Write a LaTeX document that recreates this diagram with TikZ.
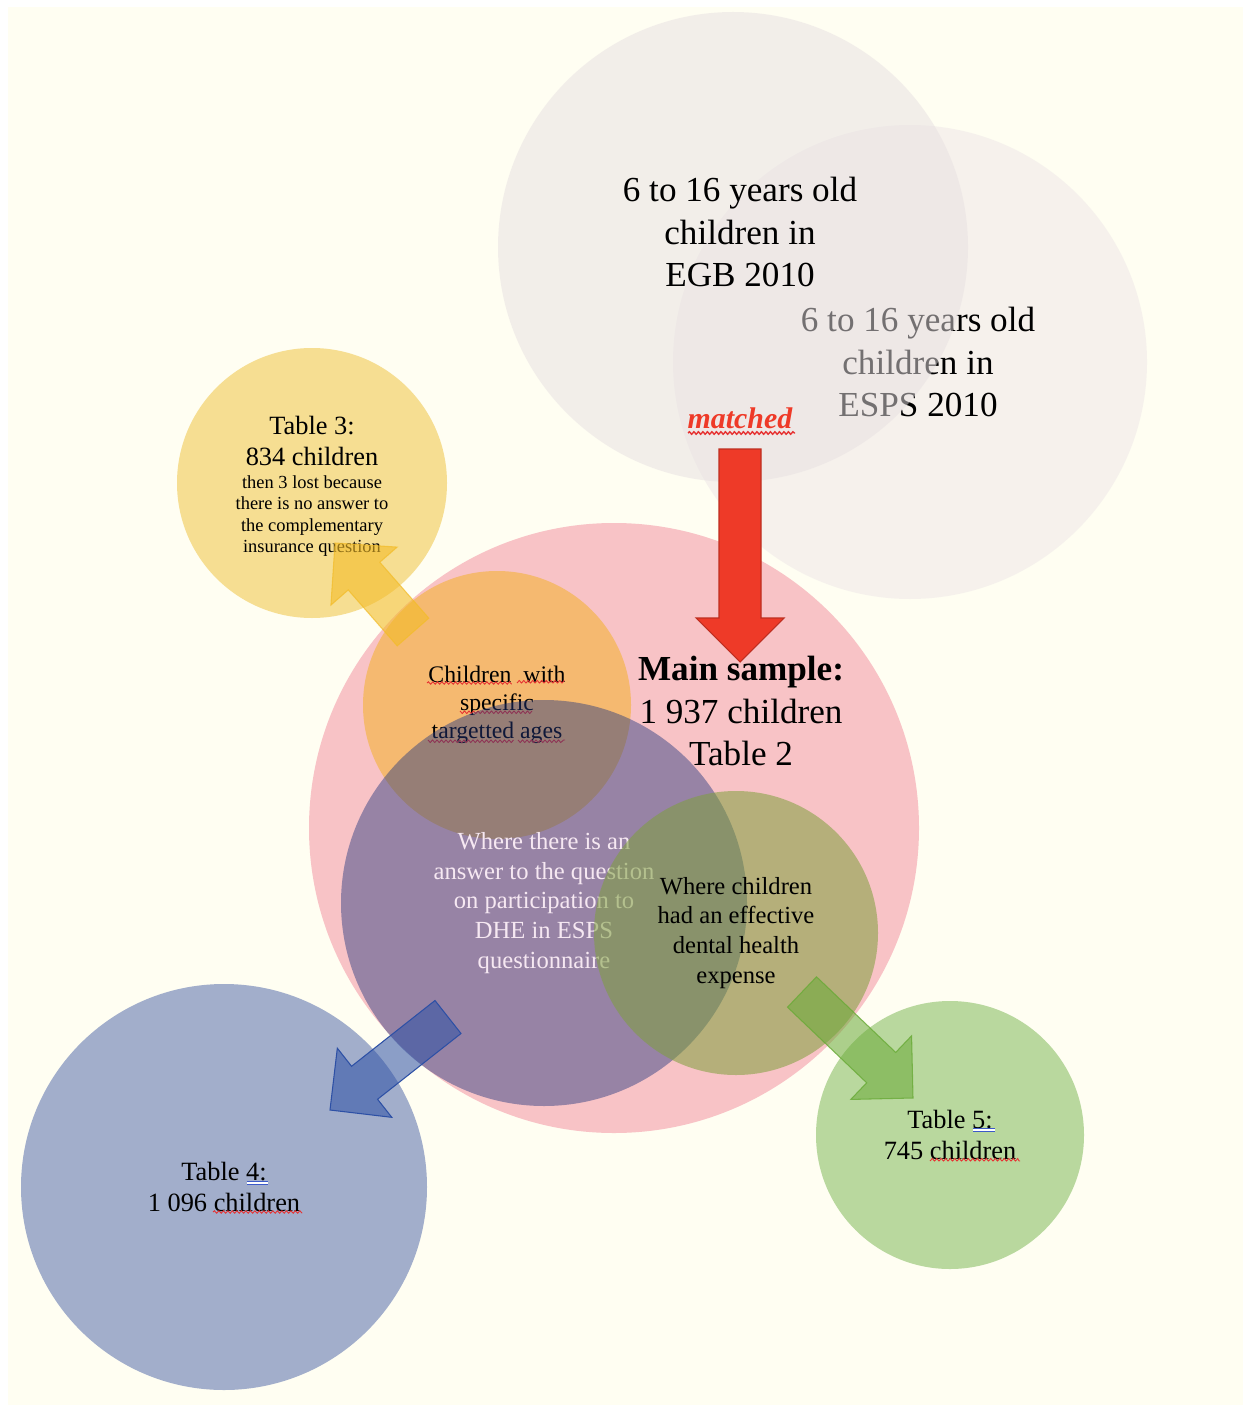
\documentclass[tikz,border=0pt]{standalone}
\usepackage{fontspec}
\setmainfont{Liberation Serif}
\usepackage{tikz}
\usetikzlibrary{calc,positioning,decorations.pathmorphing}

\definecolor{paper}{RGB}{255,254,242}
\definecolor{egbgrey}{RGB}{231,224,226}
\definecolor{espsgrey}{RGB}{226,214,224}
\definecolor{mainpink}{RGB}{248,195,198}
\definecolor{agesorange}{RGB}{245,185,112}
\definecolor{dhepurple}{RGB}{35,55,127}
\definecolor{dhetext}{RGB}{246,232,242}
\definecolor{expgreen}{RGB}{126,160,60}
\definecolor{tabyellow}{RGB}{246,222,146}
\definecolor{tabblue}{RGB}{162,174,203}
\definecolor{tabgreen}{RGB}{185,216,158}
\definecolor{matchred}{RGB}{238,58,40}
\definecolor{spellred}{RGB}{230,50,50}
\definecolor{grammarblue}{RGB}{60,90,200}
\definecolor{yelarrow}{RGB}{243,188,40}
\definecolor{bluearr}{RGB}{45,80,165}
\definecolor{greenarr}{RGB}{105,170,55}

% fat block arrow from tail to tip
\newcommand{\fatarrow}[3][]{%
  \coordinate (hb) at ($(#3)!8.8mm!(#2)$);
  \path[#1] ($(#2)!4.2mm!90:(#3)$) -- ($(hb)!4.2mm!90:(#3)$) -- ($(hb)!8.8mm!90:(#3)$)
    -- (#3) -- ($(hb)!8.8mm!-90:(#3)$) -- ($(hb)!4.2mm!-90:(#3)$) -- ($(#2)!4.2mm!-90:(#3)$) -- cycle;
}

\tikzset{
  bubble/.style={circle, inner sep=0pt, minimum size=#1*0.4mm, align=center},
  bigtxt/.style={align=center, font=\fontsize{20}{24}\selectfont},
  tabtxt/.style={align=center, font=\fontsize{15}{18}\selectfont},
  notetxt/.style={align=center, font=\fontsize{10.5}{12.2}\selectfont},
  midtxt/.style={align=center, font=\fontsize{14}{17}\selectfont},
  spellmark/.style={draw=spellred, line width=0.5pt, decorate, decoration={snake, amplitude=0.25mm, segment length=0.9mm}},
  grammarmark/.style={draw=grammarblue, line width=0.45pt, double distance=0.5mm},
  redarrow/.style={fill=matchred, draw=matchred!80!black, line width=0.6pt},
  yellowarrow/.style={fill=yelarrow, fill opacity=0.6, draw=yelarrow, draw opacity=0.7, line width=0.6pt},
  bluearrow/.style={fill=bluearr, fill opacity=0.55, draw=bluearr, line width=0.6pt},
  greenarrow/.style={fill=greenarr, fill opacity=0.55, draw=greenarr, draw opacity=0.8, line width=0.6pt}
}

\begin{document}
\begin{tikzpicture}[x=0.2mm, y=-0.2mm]
\useasboundingbox (0,0) rectangle (1243,1405);
\fill[paper] (8,7) rectangle (1243,1405);

% the two surveys
\node[bubble=237, fill=espsgrey, fill opacity=0.3] (esps) at (910,362) {};
\node[bigtxt] (espstxt) at (918,362) {6 to 16 years old\\children in\\ESPS 2010};
\node[bubble=235, fill=egbgrey, fill opacity=0.5] (egb) at (733,247) {};
\node[bigtxt] (egbtxt) at (740,232) {6 to 16 years old\\children in\\EGB 2010};

% main sample and sub-samples
\node[bubble=305, fill=mainpink] (main) at (614,828) {};
\node[bubble=135, fill=tabyellow] (t3) at (312,483) {};
\node[tabtxt] (t3head) at (312,441) {Table 3:\\834 children};
\node[notetxt] (t3note) at (312,516) {then 3 lost because\\there is no answer to\\the complementary\\insurance question};
\node[bubble=134, fill=agesorange, font=\fontsize{13.5}{16}\selectfont] (ages) at (497,705)
  {Children\ \ with\\specific\\targetted\ ages};
\draw[spellmark] (427,683) -- (510,683) (517,683) -- (565,683) (460,711) -- (532,711)
  (428,740) -- (513,740) (518,740) -- (565,740);
\node[bubble=203, fill=dhepurple, fill opacity=0.45, text opacity=1, text=dhetext, midtxt] (dhe) at (544,903)
  {Where there is an\\answer to the question\\on participation to\\DHE in ESPS\\questionnaire};
\node[bubble=142, fill=expgreen, fill opacity=0.55, text opacity=1, midtxt] (exp) at (736,933)
  {Where children\\had an effective\\dental health\\expense};
\node[bubble=203, fill=tabblue, tabtxt] (t4) at (224,1187) {Table 4:\\1 096 children};
\node[bubble=134, fill=tabgreen, tabtxt] (t5) at (950,1135) {Table 5:\\745 children};
\draw[spellmark] (213,1212) -- (302,1212) (930,1161) -- (1020,1161);
\draw[grammarmark] (247,1183) -- (268,1183) (973,1130) -- (995,1130);

% arrows
\coordinate (redtail) at (740,449);
\coordinate (redtip) at (740,662);
\coordinate (yeltail) at (413,632);
\coordinate (yeltip) at (335,543);
\coordinate (bluetail) at (448,1017);
\coordinate (bluetip) at (330,1110);
\coordinate (greentail) at (802,992);
\coordinate (greentip) at (913,1098);
\fatarrow[redarrow]{redtail}{redtip}
\fatarrow[yellowarrow]{yeltail}{yeltip}
\fatarrow[bluearrow]{bluetail}{bluetip}
\fatarrow[greenarrow]{greentail}{greentip}

\node[bigtxt] (maintxt) at (741,711) {\textbf{Main sample:}\\1 937 children\\Table 2};
\node[font=\fontsize{17}{20}\selectfont\bfseries\itshape, text=matchred] (matched) at (740,418) {matched};
\draw[spellmark, line width=0.8pt] (688,433) -- (795,433);
\end{tikzpicture}
\end{document}
